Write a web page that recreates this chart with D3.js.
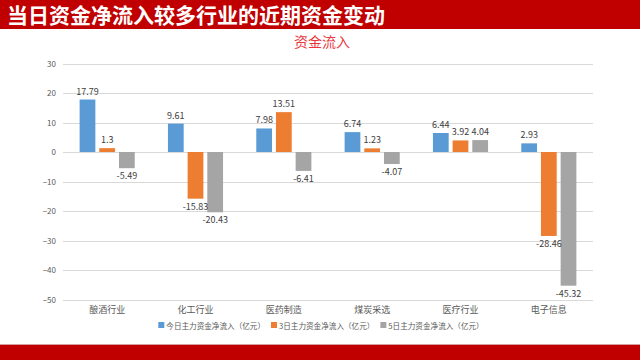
<!DOCTYPE html>
<html><head><meta charset="utf-8">
<script src="https://cdn.jsdelivr.net/npm/d3@7"></script>
<style>
html,body{margin:0;padding:0;background:#fff;}
svg{display:block;font-family:"Noto Sans CJK SC","Noto Sans",sans-serif;}
</style></head>
<body>
<script>
const categories = ["酿酒行业","化工行业","医药制造","煤炭采选","医疗行业","电子信息"];
const seriesNames = ["今日主力资金净流入（亿元）","3日主力资金净流入（亿元）","5日主力资金净流入（亿元）"];
const today = [17.79, 9.61, 7.98, 6.74, 6.44, 2.93];
const day3 = [1.3, -15.83, 13.51, 1.23, 3.92, -28.46];
const day5 = [-5.49, -20.43, -6.41, -4.07, 4.04, -45.32];
const yTicks = [30,20,10,0,-10,-20,-30,-40,-50];
const colors = ["#5B9BD5","#ED7D31","#A5A5A5"];
const pageTitle = "当日资金净流入较多行业的近期资金变动";
const chartTitle = "资金流入";

const W = 640, H = 360;
const svg = d3.select("body").append("svg").attr("width", W).attr("height", H);

svg.append("rect").attr("x",0).attr("y",0).attr("width",W).attr("height",29).attr("fill","#C00000");
svg.append("text").attr("x",7).attr("y",22.5).attr("fill","#fff").attr("font-size",21).attr("font-weight","bold").text(pageTitle);
svg.append("rect").attr("x",0).attr("y",344).attr("width",W).attr("height",1).attr("fill","#D9A0A0");
svg.append("rect").attr("x",0).attr("y",345).attr("width",W).attr("height",15).attr("fill","#C00000");

svg.append("text").attr("x",322).attr("y",47).attr("text-anchor","middle").attr("fill","#E8383D").attr("font-size",14).text(chartTitle);

const left = 63, right = 593;
const y = d3.scaleLinear().domain([-50,30]).range([299.5,63.5]);
const x0 = d3.scaleBand().domain(categories).range([left,right]).paddingInner(0.287).paddingOuter(0.1435);
const x1 = d3.scaleBand().domain([0,1,2]).range([0,x0.bandwidth()]).padding(0.2);

svg.append("g").selectAll("line").data(yTicks).join("line")
  .attr("x1",left).attr("x2",right).attr("y1",d=>Math.round(y(d))+0.5).attr("y2",d=>Math.round(y(d))+0.5)
  .attr("stroke","#D9D9D9").attr("stroke-width",1);

const yAxis = d3.axisLeft(y).tickValues(yTicks).tickSize(0).tickPadding(6);
const ga = svg.append("g").attr("transform",`translate(${left-1},0)`).call(yAxis);
ga.select(".domain").remove();
ga.selectAll("text").attr("font-size",8).attr("fill","#595959").attr("font-family","'Noto Sans CJK SC',sans-serif");

const series = [today, day3, day5];
const data = [];
categories.forEach((c,i)=>series.forEach((s,j)=>data.push({c, j, v:s[i]})));

svg.append("g").selectAll("rect").data(data).join("rect")
  .attr("x",d=>x0(d.c)+x1(d.j))
  .attr("width",x1.bandwidth())
  .attr("y",d=>y(Math.max(0,d.v)))
  .attr("height",d=>Math.abs(y(d.v)-y(0)))
  .attr("fill",d=>colors[d.j]);

svg.append("g").selectAll("text").data(data).join("text")
  .attr("x",d=>x0(d.c)+x1(d.j)+x1.bandwidth()/2)
  .attr("y",d=>d.v>=0 ? y(d.v)-5 : y(d.v)+11)
  .attr("text-anchor","middle").attr("font-size",9).attr("fill","#404040")
  .text(d=>d.v);

const xAxis = d3.axisBottom(x0).tickSize(0).tickPadding(0);
const gx = svg.append("g").attr("transform","translate(0,307)").call(xAxis);
gx.select(".domain").remove();
gx.selectAll("text").attr("font-size",9).attr("fill","#595959").attr("font-family","'Noto Sans CJK SC',sans-serif");

const lg = svg.append("g");
const legendY = 327;
const items = lg.selectAll("g").data(seriesNames).join("g");
items.append("rect").attr("width",6).attr("height",6).attr("y",legendY-5).attr("fill",(d,i)=>colors[i]);
items.append("text").attr("x",8).attr("y",legendY+1.5).attr("font-size",7.6).attr("fill","#595959").text(d=>d);
let xpos = 0;
const positions = [];
items.each(function(){ positions.push(xpos); xpos += this.getBBox().width + 6; });
const total = xpos - 6;
const start = 321 - total/2;
items.attr("transform",(d,i)=>`translate(${start+positions[i]},0)`);
</script>
</body></html>
